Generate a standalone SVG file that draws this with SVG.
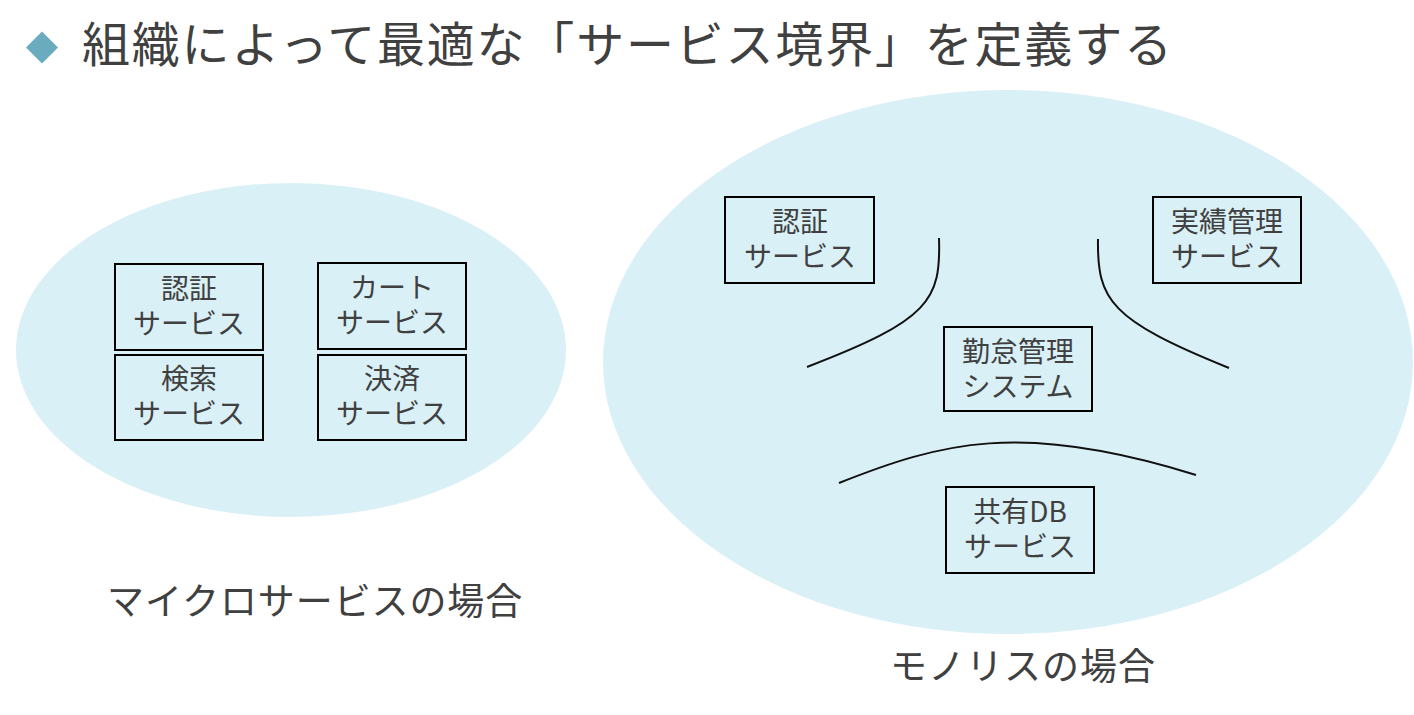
<svg xmlns="http://www.w3.org/2000/svg" width="1414" height="715" viewBox="0 0 1414 715">
<style>
.t{font-family:"Noto Sans CJK JP","Noto Sans",sans-serif;fill:#404040;}
.bl{font-size:28px;text-anchor:middle;}
.box{fill:none;stroke:#000;stroke-width:2;}
.ell{fill:#DAF0F7;}
.cur{fill:none;stroke:#111;stroke-width:2;}
</style>
<rect width="1414" height="715" fill="#fff"/>
<g id="title">
<path d="M42,31.5 L58,47.5 L42,63.5 L26,47.5 Z" fill="#6AABBD"/>
<text class="t" x="82" y="62" font-size="48" letter-spacing="1.8">組織によって最適な「サービス境界」を定義する</text>
</g>
<g id="micro">
<ellipse class="ell" cx="291" cy="350" rx="275" ry="167"/>
<text class="t" x="107" y="615" font-size="37" letter-spacing="0.9">マイクロサービスの場合</text>
</g>
<g id="mono">
<ellipse class="ell" cx="1008" cy="362" rx="405" ry="272"/>
<text class="t" x="890" y="680" font-size="37" letter-spacing="1">モノリスの場合</text>
</g>
<g id="m-auth"><rect class="box" x="115" y="264" width="148" height="86"/><text class="t bl"><tspan x="189" y="299">認証</tspan><tspan x="189" y="334">サービス</tspan></text></g>
<g id="m-cart"><rect class="box" x="318" y="263" width="148" height="86"/><text class="t bl"><tspan x="392" y="298">カート</tspan><tspan x="392" y="333">サービス</tspan></text></g>
<g id="m-search"><rect class="box" x="115" y="355" width="148" height="85"/><text class="t bl"><tspan x="189" y="389">検索</tspan><tspan x="189" y="424">サービス</tspan></text></g>
<g id="m-pay"><rect class="box" x="318" y="355" width="148" height="85"/><text class="t bl"><tspan x="392" y="389">決済</tspan><tspan x="392" y="424">サービス</tspan></text></g>
<g id="r-auth"><rect class="box" x="725" y="197" width="149" height="86"/><text class="t bl"><tspan x="800" y="232">認証</tspan><tspan x="800" y="267">サービス</tspan></text></g>
<g id="r-perf"><rect class="box" x="1153" y="197" width="148" height="86"/><text class="t bl"><tspan x="1227" y="232">実績管理</tspan><tspan x="1227" y="267">サービス</tspan></text></g>
<g id="r-attend"><rect class="box" x="944" y="327" width="148" height="84"/><text class="t bl"><tspan x="1018" y="362">勤怠管理</tspan><tspan x="1018" y="397">システム</tspan></text></g>
<g id="r-db"><rect class="box" x="946" y="487" width="148" height="86"/><text class="t bl"><tspan x="1020" y="522">共有DB</tspan><tspan x="1020" y="557">サービス</tspan></text></g>
<g id="connectors">
<path class="cur" d="M939,238 C941,300 930,320 807,367"/>
<path class="cur" d="M1098,239 C1097,300 1110,320 1229,368"/>
<path class="cur" d="M839,483 C940,443 1020,420 1196,475"/>
</g>
</svg>
